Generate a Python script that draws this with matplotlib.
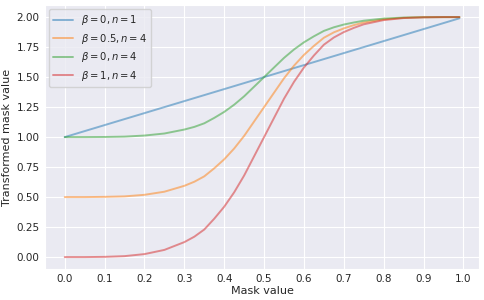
import matplotlib
matplotlib.use("Agg")
import matplotlib.pyplot as plt
import seaborn as sns

mask = [0.0, 0.05, 0.1, 0.15, 0.2, 0.25, 0.3, 0.325, 0.35, 0.375, 0.4, 0.425, 0.45, 0.475,
        0.5, 0.525, 0.55, 0.575, 0.6, 0.625, 0.65, 0.675, 0.7, 0.725, 0.75, 0.8, 0.85,
        0.9, 0.95, 0.99]

beta0_n1 = [1.0, 1.05, 1.1, 1.15, 1.2, 1.25, 1.3, 1.325, 1.35, 1.375, 1.4, 1.425, 1.45, 1.475,
            1.5, 1.525, 1.55, 1.575, 1.6, 1.625, 1.65, 1.675, 1.7, 1.725, 1.75, 1.8, 1.85,
            1.9, 1.95, 1.99]
beta05_n4 = [0.5, 0.5, 0.502, 0.506, 0.519, 0.545, 0.594, 0.628, 0.673, 0.74, 0.815, 0.905,
             1.01, 1.13, 1.25, 1.37, 1.49, 1.595, 1.685, 1.76, 1.828, 1.873, 1.906, 1.933,
             1.955, 1.981, 1.994, 1.999, 2.0, 2.0]
beta0_n4 = [1.0, 1.0, 1.001, 1.004, 1.013, 1.03, 1.063, 1.085, 1.115, 1.16, 1.21, 1.27, 1.34,
            1.42, 1.5, 1.58, 1.66, 1.73, 1.79, 1.84, 1.885, 1.915, 1.938, 1.955, 1.97, 1.988,
            1.996, 1.999, 2.0, 2.0]
beta1_n4 = [0.0, 0.0, 0.002, 0.008, 0.025, 0.06, 0.125, 0.17, 0.23, 0.32, 0.42, 0.54, 0.68,
            0.84, 1.0, 1.16, 1.32, 1.46, 1.58, 1.68, 1.77, 1.83, 1.875, 1.91, 1.94, 1.975,
            1.992, 1.998, 2.0, 2.0]

labels = [r"$\beta = 0, n = 1$", r"$\beta = 0.5, n = 4$", r"$\beta = 0, n = 4$", r"$\beta = 1, n = 4$"]
colors = ["#1f77b4", "#ff7f0e", "#2ca02c", "#d62728"]
xticks = [0.0, 0.1, 0.2, 0.3, 0.4, 0.5, 0.6, 0.7, 0.8, 0.9, 1.0]
yticks = [0.0, 0.25, 0.5, 0.75, 1.0, 1.25, 1.5, 1.75, 2.0]

sns.set_style("darkgrid")
plt.rcParams["font.family"] = ["DejaVu Sans"]

fig = plt.figure(figsize=(4.84, 3.0), dpi=100)
ax = fig.add_axes([0.093, 0.103, 0.897, 0.88])

for ys, lab, c in zip([beta0_n1, beta05_n4, beta0_n4, beta1_n4], labels, colors):
    ax.plot(mask, ys, color=c, alpha=0.5, lw=1.4, label=lab)

ax.set_xticks(xticks)
ax.set_yticks(yticks)
ax.set_xticklabels([f"{t:.1f}" for t in xticks])
ax.set_yticklabels([f"{t:.2f}" for t in yticks])
ax.tick_params(labelsize=7.5, length=0, pad=3.8, colors="#262626")
ax.set_xlabel("Mask value", fontsize=8, labelpad=1.5, color="#262626")
ax.set_ylabel("Transformed mask value", fontsize=8, labelpad=3, color="#262626")
ax.legend(loc="upper left", fontsize=7.2, handlelength=2.0, borderaxespad=0.4,
          labelspacing=0.45)

fig.savefig("out.png", dpi=100)
